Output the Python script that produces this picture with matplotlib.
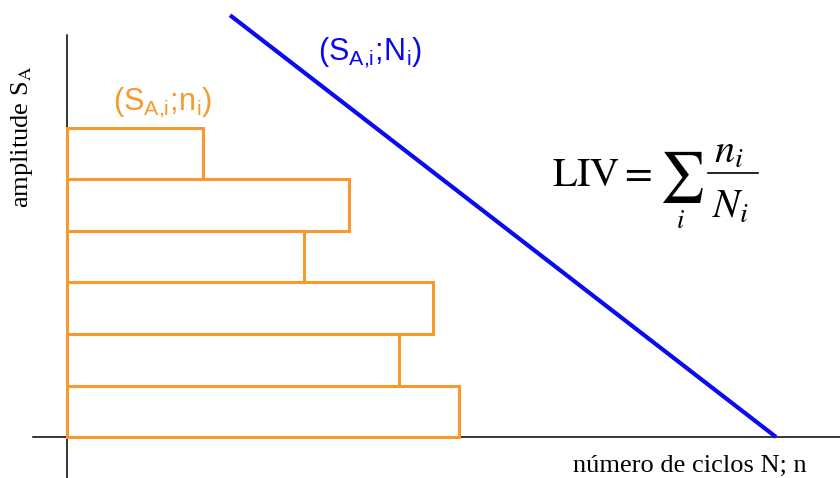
import matplotlib
matplotlib.use("Agg")
import matplotlib.pyplot as plt
from matplotlib.lines import Line2D

# Load spectrum: amplitude levels S_A,i with counted cycles n_i
levels = [0, 1, 2, 3, 4, 5]
cycles_n = [3.92, 3.32, 3.66, 2.37, 2.82, 1.36]

# S-N (Wöhler) line: cycles to failure N vs amplitude
sn_cycles = [1.63, 7.09]
sn_amplitude = [8.19, 0.0]

ORANGE = "#F7992F"
BLUE = "#0A0AF0"

plt.rcParams["mathtext.fontset"] = "custom"
plt.rcParams["mathtext.rm"] = "Liberation Sans"
plt.rcParams["mathtext.it"] = "Liberation Sans:italic"

W, H = 840, 478
fig = plt.figure(figsize=(W / 100, H / 100), dpi=100)
ax = fig.add_axes([0, 0, 1, 1])
ax.set_xlim(-0.67, 7.73)
ax.set_ylim(-0.796, 8.485)


def px(x, y):
    """Figure-fraction position from a pixel position measured from the top-left."""
    return x / W, 1 - y / H


ax.barh(levels, cycles_n, height=1.0, align="edge", fill=False,
        edgecolor=ORANGE, linewidth=2.2, zorder=3)
ax.plot(sn_cycles, sn_amplitude, color=BLUE, linewidth=3.0,
        solid_capstyle="butt", zorder=4)

for side in ("top", "right"):
    ax.spines[side].set_visible(False)
ax.spines["left"].set_position(("data", 0))
ax.spines["bottom"].set_position(("data", 0))
ax.spines["left"].set_bounds(-0.8, 7.81)
ax.spines["bottom"].set_bounds(-0.34, 7.73)
for side in ("left", "bottom"):
    ax.spines[side].set_linewidth(1.1)
    ax.spines[side].set_color("black")
ax.set_xticks([])
ax.set_yticks([])
ax.patch.set_alpha(0)

# Point labels
fig.text(*px(113, 110), r"$(\mathrm{S_{A{,}i};\!n_i})$", color=ORANGE,
         fontsize=22, ha="left", va="baseline")
fig.text(*px(318, 60), r"$(\mathrm{S_{A{,}i};\!N_i})$", color=BLUE,
         fontsize=22, ha="left", va="baseline")

# Miner's rule: LIV = sum_i n_i / N_i
fig.text(*px(552, 186), r"$\mathrm{LIV} =$", math_fontfamily="stix",
         fontsize=29, ha="left", va="baseline")
fig.text(*px(681, 177), r"$\sum$", math_fontfamily="stix",
         fontsize=36, ha="center", va="center")
fig.text(*px(680, 221), r"$i$", math_fontfamily="stix",
         fontsize=19, ha="center", va="center")
fig.text(*px(729, 163), r"$n_i$", math_fontfamily="stix",
         fontsize=29, ha="center", va="baseline")
fig.text(*px(731, 218), r"$N_i$", math_fontfamily="stix",
         fontsize=29, ha="center", va="baseline")
fig.add_artist(Line2D([708 / W, 758 / W], [1 - 173 / H, 1 - 173 / H],
                      transform=fig.transFigure, color="black", linewidth=1.2))

# Axis titles
fig.text(*px(690, 466), "número de ciclos N; n",
         family="Liberation Serif", fontsize=19, ha="center", va="center")
fig.text(*px(22, 137), r"amplitude S$_\mathrm{A}$",
         family="Liberation Serif", math_fontfamily="stix", fontsize=19,
         ha="center", va="center", rotation=90)

fig.savefig("out.png", dpi=100)
